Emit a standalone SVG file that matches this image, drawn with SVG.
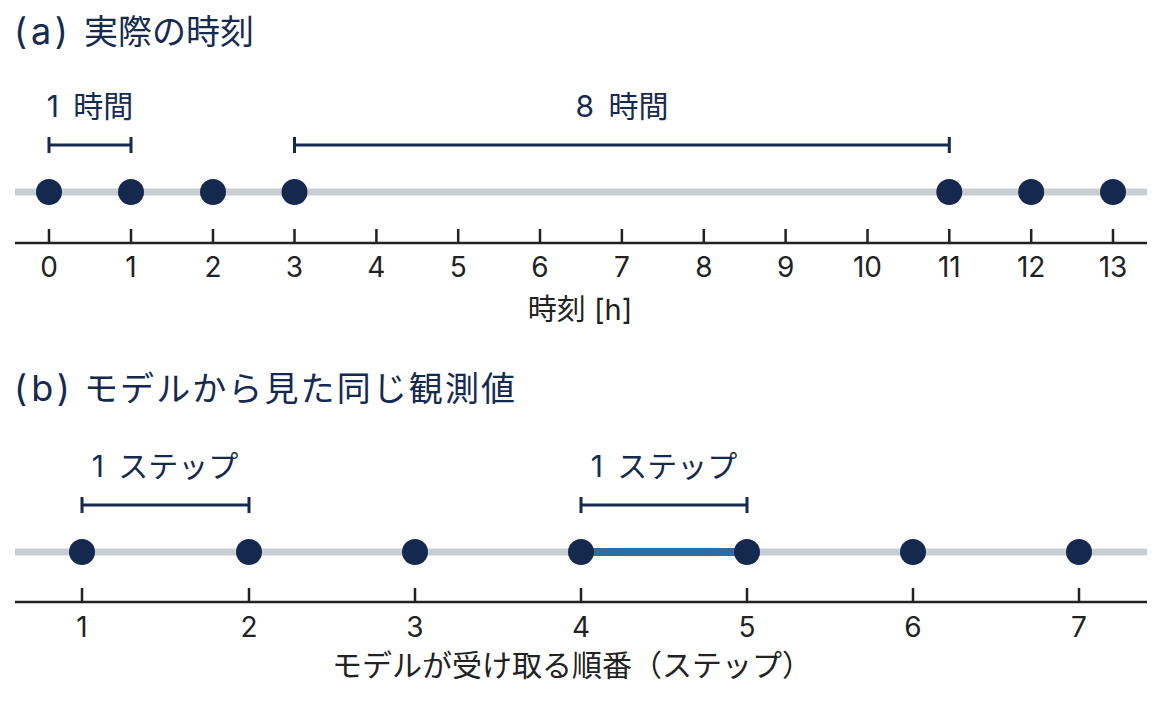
<svg xmlns="http://www.w3.org/2000/svg" width="1161" height="704" viewBox="0 0 1161 704">
<style>
.title{font-family:"Inter","Noto Sans CJK JP",sans-serif;font-size:34px;fill:#152a4f}
.lat{font-size:36px}
.blab{font-family:"Inter","Noto Sans CJK JP",sans-serif;font-size:30px;fill:#152a4f;text-anchor:middle;word-spacing:6px}
.tick{font-family:"Inter","Noto Sans",sans-serif;font-size:28px;fill:#222;text-anchor:middle}
.axlab{font-family:"Inter","Noto Sans CJK JP",sans-serif;font-size:29px;fill:#222;text-anchor:middle}
.track{stroke:#c9cdd3;stroke-width:7;fill:none}
.axis{stroke:#222;stroke-width:2.5;fill:none}
.br{stroke:#142a4e;stroke-width:3;fill:none}
.dot{fill:#14294d}
.hl{stroke:#2e6da4;stroke-width:8}
</style>
<rect width="1161" height="704" fill="#fff"/>
<text class="title" x="14" y="44"><tspan class="lat" textLength="54" lengthAdjust="spacing">(a)</tspan><tspan x="84">実際の時刻</tspan></text>
<text class="title" x="14" y="401"><tspan class="lat" textLength="56" lengthAdjust="spacing">(b)</tspan><tspan x="84" textLength="431" lengthAdjust="spacing">モデルから見た同じ観測値</tspan></text>

<g id="axes">
<line class="track" x1="15" y1="192" x2="1147" y2="192"/>
<path class="axis" d="M15 243H1147M49 229V243M131 229V243M213 229V243M294.5 229V243M376.4 229V243M458.2 229V243M540 229V243M621.9 229V243M703.8 229V243M785.6 229V243M867.5 229V243M949.3 229V243M1031.2 229V243M1113 229V243"/>
<g>
<text class="tick" x="49" y="277">0</text><text class="tick" x="131" y="277">1</text><text class="tick" x="213" y="277">2</text><text class="tick" x="294.5" y="277">3</text><text class="tick" x="376.4" y="277">4</text><text class="tick" x="458.2" y="277">5</text><text class="tick" x="540" y="277">6</text><text class="tick" x="621.9" y="277">7</text><text class="tick" x="703.8" y="277">8</text><text class="tick" x="785.6" y="277">9</text><text class="tick" x="867.5" y="277">10</text><text class="tick" x="949.3" y="277">11</text><text class="tick" x="1031.2" y="277">12</text><text class="tick" x="1113" y="277">13</text>
</g>
<text class="axlab" x="580" y="320">時刻 [h]</text>

<line class="track" x1="15" y1="552" x2="1147" y2="552"/>
<line class="hl" x1="581" y1="552" x2="747" y2="552"/>
<path class="axis" d="M15 602H1147M82 588V602M249 588V602M415 588V602M581 588V602M747 588V602M913 588V602M1079 588V602"/>
<text class="tick" x="82" y="637">1</text><text class="tick" x="249" y="637">2</text><text class="tick" x="415" y="637">3</text><text class="tick" x="581" y="637">4</text><text class="tick" x="747" y="637">5</text><text class="tick" x="913" y="637">6</text><text class="tick" x="1079" y="637">7</text>
<text class="axlab" x="572" y="676" style="font-size:30px">モデルが受け取る順番（ステップ）</text>
</g>

<g id="brackets">
<path class="br" d="M49 145H131M49 137V153M131 137V153"/>
<text class="blab" x="90" y="117">1 時間</text>
<path class="br" d="M294.5 145H949.3M294.5 137V153M949.3 137V153"/>
<text class="blab" x="622" y="117">8 時間</text>
<path class="br" d="M82 505H249M82 497V513M249 497V513"/>
<text class="blab" x="165" y="477">1 ステップ</text>
<path class="br" d="M581 505H747M581 497V513M747 497V513"/>
<text class="blab" x="664" y="477">1 ステップ</text>
</g>

<g id="dots-a">
<circle class="dot" cx="49" cy="192" r="13"/><circle class="dot" cx="131" cy="192" r="13"/><circle class="dot" cx="213" cy="192" r="13"/><circle class="dot" cx="294.5" cy="192" r="13"/><circle class="dot" cx="949.3" cy="192" r="13"/><circle class="dot" cx="1031.2" cy="192" r="13"/><circle class="dot" cx="1113" cy="192" r="13"/>
</g>
<g id="dots-b">
<circle class="dot" cx="82" cy="552" r="13"/><circle class="dot" cx="249" cy="552" r="13"/><circle class="dot" cx="415" cy="552" r="13"/><circle class="dot" cx="581" cy="552" r="13"/><circle class="dot" cx="747" cy="552" r="13"/><circle class="dot" cx="913" cy="552" r="13"/><circle class="dot" cx="1079" cy="552" r="13"/>
</g>
</svg>
